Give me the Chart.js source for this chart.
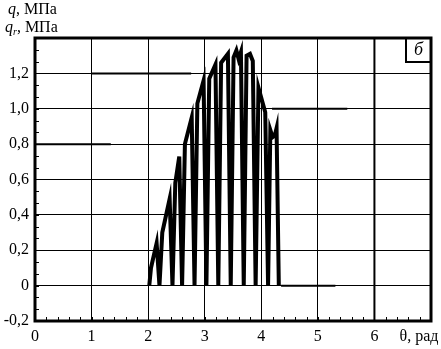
<!DOCTYPE html>
<html>
<head>
<meta charset="utf-8">
<script src="https://cdn.jsdelivr.net/npm/chart.js@4"></script>
<style>
  html, body { margin: 0; padding: 0; background: #fff; }
  canvas { display: block; }
</style>
</head>
<body>
<canvas id="c" width="441" height="349"></canvas>
<script>
// oscillating pressure curve q(θ)
const curveTheta = [2.02, 2.05, 2.15, 2.20,
  2.25, 2.38, 2.43,
  2.48, 2.55, 2.60,
  2.65, 2.77, 2.82,
  2.87, 2.98, 3.03,
  3.08, 3.19, 3.24,
  3.29, 3.41, 3.46,
  3.51, 3.56, 3.60, 3.64, 3.69,
  3.74, 3.80, 3.85, 3.90,
  3.95, 4.07, 4.12,
  4.16, 4.20, 4.24, 4.27, 4.31];
const curveQ = [0, 0.10, 0.24, 0,
  0.30, 0.49, 0,
  0.58, 0.73, 0,
  0.80, 0.95, 0,
  1.03, 1.16, 0,
  1.17, 1.25, 0,
  1.26, 1.31, 0,
  1.29, 1.33, 1.28, 1.32, 0,
  1.30, 1.31, 1.27, 0,
  1.12, 0.98, 0,
  0.88, 0.84, 0.85, 0.89, 0];

// stepwise q_r segments: [start, end] and level
const stepRanges = [[0, 1.34], [1.0, 2.76], [4.19, 5.52], [4.35, 5.31]];
const stepLevels = [0.8, 1.2, 1.0, 0];

// vertical marker
const markTheta = 6;

const xTicks = [0, 1, 2, 3, 4, 5, 6];
const yTicks = [-0.2, 0, 0.2, 0.4, 0.6, 0.8, 1.0, 1.2];

const SERIF = '"Liberation Serif", "Times New Roman", serif';

const datasets = [{
  data: curveTheta.map((t, i) => ({ x: t, y: curveQ[i] })),
  borderColor: '#000',
  borderWidth: 4,
  pointRadius: 0,
  tension: 0,
  fill: false
}];
stepRanges.forEach((r, i) => {
  datasets.push({
    data: [{ x: r[0], y: stepLevels[i] }, { x: r[1], y: stepLevels[i] }],
    borderColor: '#000',
    borderWidth: 2,
    pointRadius: 0,
    fill: false
  });
});
datasets.push({
  data: [{ x: markTheta, y: -0.2 }, { x: markTheta, y: 1.4 }],
  borderColor: '#000',
  borderWidth: 2,
  pointRadius: 0,
  fill: false
});

function fmtY(v) {
  if (Math.abs(v) < 1e-9) return '0';
  return v.toFixed(1).replace('.', ',');
}

const decor = {
  id: 'decor',
  afterDraw(chart) {
    const { ctx, chartArea: a, scales: { x, y } } = chart;
    ctx.save();
    ctx.strokeStyle = '#000';
    ctx.fillStyle = '#000';

    // minor ticks inside left and bottom axes
    ctx.lineWidth = 1;
    ctx.beginPath();
    for (let k = 1; k < 24; k++) {
      const v = -0.2 + k * 0.2 / 3;
      const py = Math.round(y.getPixelForValue(v)) + 0.5;
      ctx.moveTo(a.left, py);
      ctx.lineTo(a.left + 4, py);
    }
    for (let k = 1; k < 35; k++) {
      const px = Math.round(x.getPixelForValue(k * 0.2)) + 0.5;
      ctx.moveTo(px, a.bottom);
      ctx.lineTo(px, a.bottom - 4);
    }
    ctx.stroke();

    // frame
    ctx.lineWidth = 3;
    ctx.strokeRect(a.left, a.top, a.right - a.left, a.bottom - a.top);

    // panel label box
    ctx.lineWidth = 2;
    ctx.strokeRect(a.right - 25, a.top, 25, 24);
    ctx.font = 'italic 18px ' + SERIF;
    ctx.textAlign = 'center';
    ctx.textBaseline = 'middle';
    ctx.fillText('б', a.right - 12.5, a.top + 12);

    // axis titles
    ctx.textAlign = 'left';
    ctx.textBaseline = 'alphabetic';
    ctx.font = 'italic 16px ' + SERIF;
    ctx.fillText('q', 8, 14);
    let w = ctx.measureText('q').width;
    ctx.font = '16px ' + SERIF;
    ctx.fillText(', МПа', 8 + w, 14);

    ctx.font = 'italic 16px ' + SERIF;
    ctx.fillText('q', 5, 32);
    w = ctx.measureText('q').width;
    ctx.font = 'italic 10px ' + SERIF;
    ctx.fillText('r', 5 + w, 35);
    const w2 = ctx.measureText('r').width;
    ctx.font = '16px ' + SERIF;
    ctx.fillText(', МПа', 5 + w + w2, 32);

    ctx.textAlign = 'center';
    ctx.textBaseline = 'middle';
    ctx.fillText('θ, рад', 419, 337);
    ctx.restore();
  }
};

new Chart(document.getElementById('c').getContext('2d'), {
  type: 'line',
  data: { datasets },
  options: {
    responsive: false,
    animation: false,
    devicePixelRatio: 1,
    layout: { padding: { top: 38, right: 10, left: 0, bottom: 0 } },
    plugins: { legend: { display: false }, tooltip: { enabled: false } },
    scales: {
      x: {
        type: 'linear',
        min: 0,
        max: 7,
        afterFit: s => { s.height = 28; },
        afterBuildTicks: s => { s.ticks = xTicks.concat([7]).map(v => ({ value: v })); },
        ticks: {
          callback: v => (v === 7 ? '' : String(v)),
          font: { family: SERIF, size: 16 },
          color: '#000',
          padding: 6,
          maxRotation: 0,
          autoSkip: false
        },
        grid: { color: '#000', lineWidth: 1, drawTicks: false },
        border: { display: false }
      },
      y: {
        type: 'linear',
        min: -0.2,
        max: 1.4,
        afterFit: s => { s.width = 35; },
        afterBuildTicks: s => { s.ticks = yTicks.concat([1.4]).map(v => ({ value: v })); },
        ticks: {
          callback: v => (v === 1.4 ? '' : fmtY(v)),
          font: { family: SERIF, size: 16 },
          color: '#000',
          padding: 6,
          autoSkip: false
        },
        grid: { color: '#000', lineWidth: 1, drawTicks: false },
        border: { display: false }
      }
    }
  },
  plugins: [decor]
});
</script>
</body>
</html>
